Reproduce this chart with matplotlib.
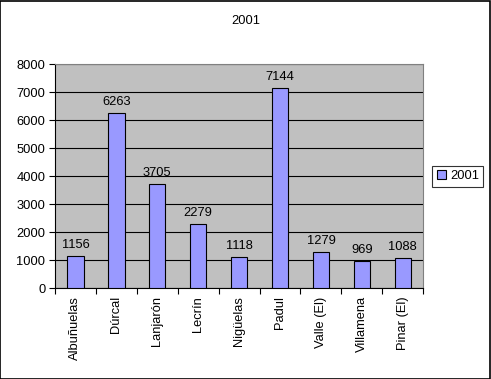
import matplotlib
matplotlib.use('Agg')
import matplotlib.pyplot as plt
import numpy as np
from matplotlib.patches import Rectangle

plt.rcParams['font.family'] = ['Liberation Sans', 'DejaVu Sans']

towns = ['Albuñuelas', 'Dúrcal', 'Lanjarón', 'Lecrín', 'Nigüelas',
         'Padul', 'Valle (El)', 'Villamena', 'Pinar (El)']
pop_2001 = [1156, 6263, 3705, 2279, 1118, 7144, 1279, 969, 1088]
series_name = '2001'

fs = 9.3

fig = plt.figure(figsize=(4.91, 3.79), dpi=100)
fig.patches.append(Rectangle((0.001, 0.001), 0.997, 0.997, transform=fig.transFigure,
                             fill=False, edgecolor='black', linewidth=1.2))

ax = fig.add_axes([0.112, 0.240, 0.750, 0.591])
ax.set_facecolor('#c0c0c0')

x = np.arange(len(towns))
ax.bar(x, pop_2001, width=0.4, color='#9999ff', edgecolor='black',
       linewidth=0.8, zorder=3, label=series_name)
for xi, v in zip(x, pop_2001):
    ax.text(xi, v + 180, str(v), ha='center', va='bottom', fontsize=fs)

ax.set_xlim(-0.5, len(towns) - 0.5)
ax.set_ylim(0, 8000)
ax.set_yticks(np.arange(0, 8001, 1000))
ax.yaxis.grid(True, color='black', linewidth=0.8, zorder=1)
ax.set_axisbelow(True)

ax.set_xticks(np.arange(-0.5, len(towns), 1))
ax.set_xticklabels([])
ax.set_xticks(x, minor=True)
ax.set_xticklabels(towns, minor=True, rotation=90, fontsize=fs)
ax.tick_params(axis='x', which='minor', length=0, pad=6)
ax.tick_params(axis='x', which='major', direction='out', length=4, width=0.8)
ax.tick_params(axis='y', direction='out', length=4, width=0.8, labelsize=fs, pad=3)

for side in ['top', 'right']:
    ax.spines[side].set_color('#808080')
for side in ['left', 'bottom']:
    ax.spines[side].set_color('black')

fig.text(0.5, 0.945, '2001', ha='center', va='center', fontsize=fs)

leg = ax.legend(loc='center left', bbox_to_anchor=(1.025, 0.5), frameon=True,
                fancybox=False, fontsize=fs, handlelength=0.7, handleheight=0.7,
                handletextpad=0.3, borderpad=0.35, borderaxespad=0)
leg.get_frame().set_edgecolor('black')
leg.get_frame().set_linewidth(0.8)

fig.savefig('out.png', dpi=100)
